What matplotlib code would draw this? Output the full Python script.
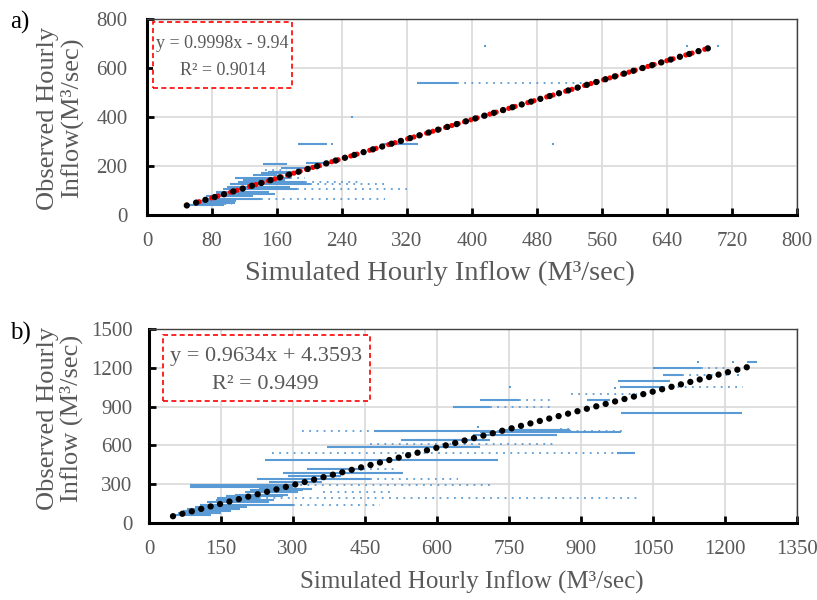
import matplotlib
matplotlib.use("Agg")
import matplotlib.pyplot as plt
from matplotlib.patches import Rectangle
import numpy as np

plt.rcParams['font.family'] = ['Liberation Serif', 'DejaVu Serif']

GRAY = '#595959'
BLUE = '#5b9bd5'

# ---------------- Panel a data (observed vs simulated, runs of equal observed value) ----------
a_solid_y  = [540, 289, 289, 212, 208, 197, 190, 177, 170, 163, 150, 143, 136, 127, 116, 106, 95, 86, 76, 67, 58, 48, 42]
a_solid_x0 = [332, 186, 290, 196, 143, 197, 165, 149, 140, 131, 108, 118, 112, 102, 98, 94, 85, 85, 72, 69, 60, 59, 50]
a_solid_x1 = [381, 222, 334, 227, 172, 215, 200, 185, 190, 160, 176, 170, 195, 200, 176, 185, 150, 157, 130, 140, 110, 108, 95]

a_dot_y  = [540, 136, 127, 106, 67, 184, 46, 150]
a_dot_x0 = [381, 195, 200, 185, 140, 145, 86, 176]
a_dot_x1 = [541, 260, 297, 320, 293, 172, 105, 195]

a_pts_x = [416, 665, 703, 252, 500, 228]
a_pts_y = [690, 690, 690, 401, 289, 289]

a_slope, a_icpt = 0.9998, -9.94
a_trend_x = np.array([49, 699])
a_red_x = np.array([60, 690])
a_eq = "y = 0.9998x - 9.94"
a_r2 = "R² = 0.9014"

# ---------------- Panel b data ----------
b_solid_y  = [1248, 1196, 1147, 1096, 1049, 948, 948, 899, 850, 721, 700, 708, 682, 643, 638, 591, 545, 488, 387, 339, 295, 277, 191, 140,
              60, 75, 90, 105, 120, 165, 180, 205, 220, 240, 255, 265, 315, 360, 415]
b_solid_x0 = [1245, 1049, 1071, 977, 981, 690, 912, 633, 983, 735, 690, 468, 675, 560, 526, 371, 974, 242, 280, 224, 85, 85, 141, 106,
              50, 60, 70, 80, 95, 120, 140, 160, 180, 200, 210, 230, 250, 290, 330]
b_solid_x1 = [1266, 1150, 1110, 1085, 1070, 771, 960, 710, 1235, 877, 983, 710, 850, 710, 703, 690, 1012, 727, 530, 460, 300, 300, 230, 300,
              130, 150, 170, 190, 205, 250, 260, 280, 290, 310, 320, 340, 360, 400, 450]

b_dot_y  = [1196, 1147, 1049, 1000, 948, 899, 729, 708, 708, 608, 545, 416, 339, 295, 238, 191, 140]
b_dot_x0 = [1150, 1110, 1070, 880, 771, 710, 856, 318, 710, 460, 256, 460, 460, 300, 363, 230, 300]
b_dot_x1 = [1204, 1204, 1237, 1016, 846, 846, 876, 468, 988, 846, 974, 519, 644, 710, 505, 1020, 481]

b_pts_x = [1144, 1217, 1227, 752, 686, 970]
b_pts_y = [1248, 1248, 1147, 1052, 739, 1047]

b_slope, b_icpt = 0.9634, 4.3593
b_trend_x = np.array([50, 1254])
b_eq = "y = 0.9634x + 4.3593"
b_r2 = "R² = 0.9499"

a_xticks = list(range(0, 801, 80))
a_yticks = list(range(0, 801, 200))
b_xticks = list(range(0, 1351, 150))
b_yticks = list(range(0, 1501, 300))

xlabel = "Simulated Hourly Inflow (M³/sec)"
a_ylabel = "Observed Hourly\nInflow(M³/sec)"
b_ylabel = "Observed Hourly\nInflow (M³/sec)"

fig = plt.figure(figsize=(8.17, 6.0), dpi=100)
axa = fig.add_axes([147/817, 1-215/600, 650/817, 196/600])
axb = fig.add_axes([149/817, 1-523/600, 648/817, 194/600])


def style(ax, xt, yt, ypad):
    ax.set_xlim(xt[0], xt[-1])
    ax.set_ylim(yt[0], yt[-1])
    ax.set_xticks(xt)
    ax.set_yticks(yt)
    ax.grid(True, color='#d9d9d9', lw=1.2)
    ax.set_axisbelow(True)
    for s in ['left', 'bottom']:
        ax.spines[s].set_linewidth(2.2)
        ax.spines[s].set_color('black')
    for s in ['top', 'right']:
        ax.spines[s].set_linewidth(1.0)
        ax.spines[s].set_color('#404040')
    ax.tick_params(direction='in', length=5, width=2, colors='black',
                   labelcolor=GRAY, labelsize=15, top=False, right=False)
    ax.tick_params(axis='y', pad=ypad)
    ax.tick_params(axis='x', pad=12)


def draw(ax, sy, sx0, sx1, dy, dx0, dx1, px, py):
    ax.hlines(sy, sx0, sx1, colors=BLUE, lw=1.5, zorder=2)
    ax.hlines(dy, dx0, dx1, colors=BLUE, lw=1.3, linestyles=[(0, (1.0, 3.0))], zorder=2)
    ax.scatter(px, py, s=3, color=BLUE, marker='s', lw=0, zorder=2)


style(axa, a_xticks, a_yticks, 14)
style(axb, b_xticks, b_yticks, 12)

draw(axa, a_solid_y, a_solid_x0, a_solid_x1, a_dot_y, a_dot_x0, a_dot_x1, a_pts_x, a_pts_y)
draw(axb, b_solid_y, b_solid_x0, b_solid_x1, b_dot_y, b_dot_x0, b_dot_x1, b_pts_x, b_pts_y)

# trend lines
axa.plot(a_red_x, a_slope * a_red_x + a_icpt, color='#ff0000', lw=3.8,
         ls=(0.6, (0.001, 1.25)), dash_capstyle='round', zorder=3)
axa.plot(a_trend_x, a_slope * a_trend_x + a_icpt, color='black', lw=4.6,
         ls=(0, (0.001, 1.52)), dash_capstyle='round', zorder=4)
axb.plot(b_trend_x, b_slope * b_trend_x + b_icpt, color='black', lw=4.6,
         ls=(0, (0.001, 1.52)), dash_capstyle='round', zorder=4)

# equation boxes
for ax, (bx0, bx1, by0, by1), eq, r2, fs, cx, l1, l2 in [
    (axa, (0.009, 0.223, 0.648, 0.985), a_eq, a_r2, 13, 0.116, 0.875, 0.735),
    (axb, (0.0216, 0.341, 0.629, 0.969), b_eq, b_r2, 16, 0.18, 0.86, 0.715),
]:
    ax.add_patch(Rectangle((bx0, by0), bx1 - bx0, by1 - by0, transform=ax.transAxes,
                           facecolor='white', edgecolor='#ff0000', lw=1.2,
                           ls=(0, (3, 2)), zorder=5))
    ax.text(cx, l1, eq, transform=ax.transAxes, ha='center', va='center',
            fontsize=fs, color=GRAY, zorder=6)
    ax.text(cx, l2, r2, transform=ax.transAxes, ha='center', va='center',
            fontsize=fs, color=GRAY, zorder=6)

# axis labels and panel letters
fig.text(440/817, 1-273/600, xlabel, ha='center', va='center', fontsize=20.5, color=GRAY)
fig.text(472/817, 1-582/600, xlabel, ha='center', va='center', fontsize=18, color=GRAY)
fig.text(60/817, 1-118/600, a_ylabel, rotation=90, ha='center', va='center',
         fontsize=19, color=GRAY, linespacing=1.0)
fig.text(60/817, 1-418/600, b_ylabel, rotation=90, ha='center', va='center',
         fontsize=19, color=GRAY, linespacing=1.0)
fig.text(10/817, 1-22/600, "a)", ha='left', va='center', fontsize=18, color='black')
fig.text(10/817, 1-333/600, "b)", ha='left', va='center', fontsize=18, color='black')

fig.savefig("out.png", dpi=100)
